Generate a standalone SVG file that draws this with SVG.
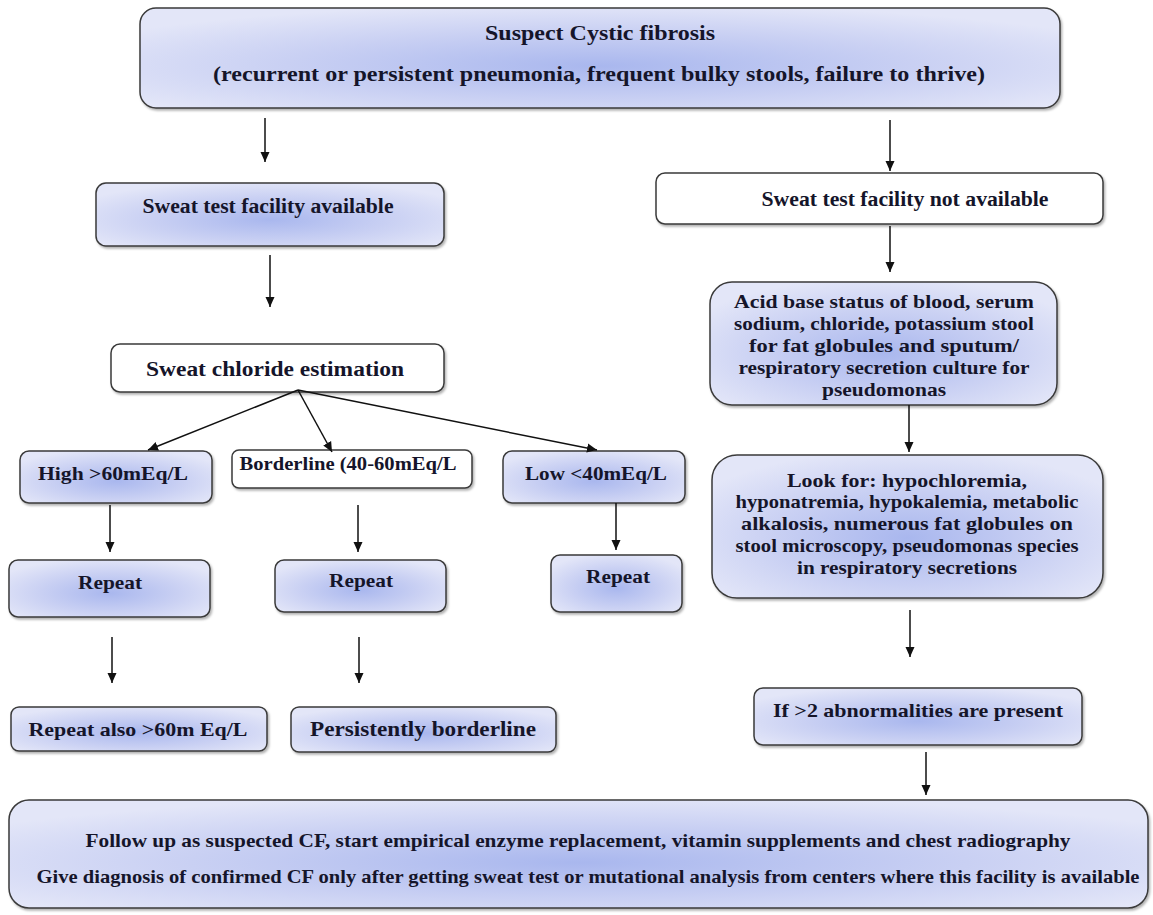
<svg xmlns="http://www.w3.org/2000/svg" width="1153" height="915" viewBox="0 0 1153 915">
<defs>
<radialGradient id="g" cx="50%" cy="58%" r="62%">
<stop offset="0" stop-color="#a9b7ee"/>
<stop offset="0.55" stop-color="#c9d0f3"/>
<stop offset="1" stop-color="#e3e6f8"/>
</radialGradient>
<filter id="sh" x="-5%" y="-10%" width="110%" height="130%">
<feDropShadow dx="1.5" dy="2" stdDeviation="1.2" flood-color="#000" flood-opacity="0.3"/>
</filter>
<marker id="ah" viewBox="0 0 10 10" refX="10" refY="5" markerWidth="10" markerHeight="10" markerUnits="userSpaceOnUse" orient="auto">
<path d="M0,0.5 L10,5 L0,9.5 z" fill="#111"/>
</marker>
</defs>
<style>
.b{fill:url(#g);stroke:#3a3a3a;stroke-width:1.5;filter:url(#sh)}
.w{fill:#fff;stroke:#3a3a3a;stroke-width:1.5;filter:url(#sh)}
text{font-family:"Liberation Serif","Times New Roman",serif;font-weight:bold;fill:#15152a;text-anchor:middle;dominant-baseline:central}
.c line{stroke:#111;stroke-width:1.5;marker-end:url(#ah)}
</style>
<rect width="1153" height="915" fill="#fff"/>

<g id="suspect">
<rect class="b" x="140" y="8" width="920" height="100" rx="16"/>
<text x="600" y="33" font-size="21" textLength="230" lengthAdjust="spacingAndGlyphs">Suspect Cystic fibrosis</text>
<text x="599" y="74" font-size="21" textLength="772" lengthAdjust="spacingAndGlyphs">(recurrent or persistent pneumonia, frequent bulky stools, failure to thrive)</text>
</g>

<g id="sweat-available">
<rect class="b" x="96" y="183" width="348" height="63" rx="10"/>
<text x="268" y="206" font-size="20" textLength="251" lengthAdjust="spacingAndGlyphs">Sweat test facility available</text>
</g>

<g id="sweat-chloride">
<rect class="w" x="111" y="344" width="333" height="48" rx="9"/>
<text x="275" y="369" font-size="20" textLength="258" lengthAdjust="spacingAndGlyphs">Sweat chloride estimation</text>
</g>

<g id="high">
<rect class="b" x="20" y="451" width="192" height="52" rx="9"/>
<text x="113" y="473" font-size="19" textLength="150" lengthAdjust="spacingAndGlyphs">High &gt;60mEq/L</text>
</g>

<g id="borderline">
<rect class="w" x="232" y="450" width="240" height="38" rx="7"/>
<text x="348" y="463" font-size="19" textLength="217" lengthAdjust="spacingAndGlyphs">Borderline (40-60mEq/L</text>
</g>

<g id="low">
<rect class="b" x="503" y="451" width="182" height="52" rx="9"/>
<text x="596" y="473" font-size="19" textLength="142" lengthAdjust="spacingAndGlyphs">Low &lt;40mEq/L</text>
</g>

<g id="repeat-high">
<rect class="b" x="9" y="560" width="201" height="57" rx="9"/>
<text x="110" y="582" font-size="19" textLength="64" lengthAdjust="spacingAndGlyphs">Repeat</text>
</g>

<g id="repeat-borderline">
<rect class="b" x="275" y="560" width="171" height="52" rx="9"/>
<text x="361" y="580" font-size="19" textLength="64" lengthAdjust="spacingAndGlyphs">Repeat</text>
</g>

<g id="repeat-low">
<rect class="b" x="551" y="555" width="131" height="57" rx="9"/>
<text x="618" y="576" font-size="19" textLength="64" lengthAdjust="spacingAndGlyphs">Repeat</text>
</g>

<g id="repeat-also">
<rect class="b" x="11" y="707" width="256" height="44" rx="8"/>
<text x="138" y="729" font-size="19" textLength="219" lengthAdjust="spacingAndGlyphs">Repeat also &gt;60m Eq/L</text>
</g>

<g id="persistently-borderline">
<rect class="b" x="291" y="707" width="265" height="45" rx="8"/>
<text x="423" y="729" font-size="20" textLength="226" lengthAdjust="spacingAndGlyphs">Persistently borderline</text>
</g>

<g id="sweat-not-available">
<rect class="w" x="656" y="173" width="447" height="51" rx="9"/>
<text x="905" y="199" font-size="20" textLength="287" lengthAdjust="spacingAndGlyphs">Sweat test facility not available</text>
</g>

<g id="acid-base">
<rect class="b" x="710" y="282" width="347" height="123" rx="22"/>
<text x="884" y="301" font-size="19" textLength="300" lengthAdjust="spacingAndGlyphs">Acid base status of blood, serum</text>
<text x="884" y="323" font-size="19" textLength="300" lengthAdjust="spacingAndGlyphs">sodium, chloride, potassium stool</text>
<text x="884" y="345" font-size="19" textLength="270" lengthAdjust="spacingAndGlyphs">for fat globules and sputum/</text>
<text x="884" y="367" font-size="19" textLength="291" lengthAdjust="spacingAndGlyphs">respiratory secretion culture for</text>
<text x="884" y="389" font-size="19" textLength="124" lengthAdjust="spacingAndGlyphs">pseudomonas</text>
</g>

<g id="look-for">
<rect class="b" x="712" y="455" width="391" height="143" rx="25"/>
<text x="907" y="480" font-size="19" textLength="240" lengthAdjust="spacingAndGlyphs">Look for: hypochloremia,</text>
<text x="907" y="501" font-size="19" textLength="343" lengthAdjust="spacingAndGlyphs">hyponatremia, hypokalemia, metabolic</text>
<text x="907" y="523" font-size="19" textLength="332" lengthAdjust="spacingAndGlyphs">alkalosis, numerous fat globules on</text>
<text x="907" y="545" font-size="19" textLength="343" lengthAdjust="spacingAndGlyphs">stool microscopy, pseudomonas species</text>
<text x="907" y="567" font-size="19" textLength="220" lengthAdjust="spacingAndGlyphs">in respiratory secretions</text>
</g>

<g id="abnormalities">
<rect class="b" x="754" y="688" width="328" height="57" rx="9"/>
<text x="918" y="710" font-size="19" textLength="290" lengthAdjust="spacingAndGlyphs">If &gt;2 abnormalities are present</text>
</g>

<g id="follow-up">
<rect class="b" x="9" y="800" width="1139" height="108" rx="20"/>
<text x="578" y="840" font-size="19" textLength="985" lengthAdjust="spacingAndGlyphs">Follow up as suspected CF, start empirical enzyme replacement, vitamin supplements and chest radiography</text>
<text x="588" y="876" font-size="19" textLength="1103" lengthAdjust="spacingAndGlyphs">Give diagnosis of confirmed CF only after getting sweat test or mutational analysis from centers where this facility is available</text>
</g>

<g id="connectors" class="c">
<line x1="265" y1="118" x2="265" y2="162"/>
<line x1="270" y1="255" x2="270" y2="307"/>
<line x1="298" y1="390" x2="148" y2="450"/>
<line x1="298" y1="390" x2="332" y2="452"/>
<line x1="298" y1="390" x2="597" y2="450"/>
<line x1="110" y1="505" x2="110" y2="552"/>
<line x1="358" y1="505" x2="358" y2="552"/>
<line x1="616" y1="503" x2="616" y2="550"/>
<line x1="112" y1="637" x2="112" y2="683"/>
<line x1="359" y1="637" x2="359" y2="683"/>
<line x1="890" y1="120" x2="890" y2="171"/>
<line x1="890" y1="226" x2="890" y2="272"/>
<line x1="909" y1="405" x2="909" y2="452"/>
<line x1="910" y1="610" x2="910" y2="657"/>
<line x1="926" y1="752" x2="926" y2="795"/>
</g>
</svg>
